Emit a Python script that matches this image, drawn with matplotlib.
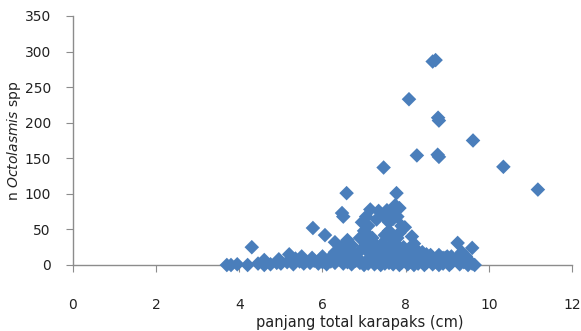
import matplotlib
matplotlib.use("Agg")
import matplotlib.pyplot as plt

# panjang total karapaks (cm) vs jumlah Octolasmis
x_low = [3.7, 3.8, 3.95, 4.2, 4.45, 4.6, 4.75, 4.9, 5.0, 5.15, 5.3, 5.45, 5.55,
         5.7, 5.8, 5.9, 6.0, 6.1, 6.2, 6.3, 6.4, 6.5, 6.6, 6.7, 6.8, 6.9, 7.0,
         7.05, 7.1, 7.2, 7.25, 7.3, 7.4, 7.45, 7.5, 7.6, 7.65, 7.7, 7.8, 7.85,
         7.9, 8.0, 8.05, 8.1, 8.2, 8.25, 8.3, 8.4, 8.45, 8.5, 8.6, 8.65, 8.7,
         8.8, 8.85, 8.9, 9.0, 9.05, 9.1, 9.2, 9.3, 9.4, 9.5, 9.6, 9.66]
y_low = [0, 0, 1, 0, 2, 0, 1, 3, 2, 4, 1, 5, 2,
         3, 6, 2, 4, 1, 5, 3, 8, 2, 4, 1, 6, 3, 0,
         5, 2, 8, 1, 4, 0, 6, 2, 3, 9, 1, 5, 0,
         3, 7, 1, 4, 0, 6, 2, 5, 0, 3, 8, 1, 4,
         0, 6, 2, 5, 0, 3, 8, 1, 4, 0, 2, 0]

x_mid = [5.2, 5.5, 5.75, 6.0, 6.3, 6.5, 6.6, 6.75, 6.9, 7.0, 7.1, 7.2, 7.3,
         7.4, 7.5, 7.6, 7.7, 7.75, 7.9, 8.0, 8.1, 8.2, 8.35, 8.4, 8.5, 8.65,
         8.8, 8.95, 9.1, 9.25, 9.35, 9.6, 9.45, 6.45, 7.8, 7.05,
         7.0, 7.05, 7.1, 7.2, 7.5, 7.6, 7.7, 7.45, 7.85, 7.9, 7.98, 8.15, 8.2,
         7.3, 6.95, 7.6, 7.7, 6.6, 6.7, 6.3, 6.06, 5.77, 4.3, 6.5,
         7.15, 7.35, 7.55, 7.7, 7.85, 7.05, 7.45, 7.8, 7.75, 6.47, 6.5,
         6.2, 6.4, 6.55, 6.85, 7.15, 7.25, 7.35, 7.55, 7.65, 7.95, 8.05,
         8.3, 8.45, 8.6, 8.75, 8.9, 9.0, 6.9, 7.0, 7.4, 7.65, 7.8, 8.25,
         5.95, 6.15, 5.35, 4.6, 4.95]
y_mid = [15, 12, 10, 12, 18, 14, 22, 16, 20, 25, 18, 12, 22,
         15, 20, 25, 14, 20, 18, 12, 22, 16, 12, 18, 15, 10,
         14, 10, 12, 31, 18, 24, 12, 25, 28, 30,
         35, 45, 55, 38, 42, 48, 35, 30, 45, 55, 53, 40, 30,
         64, 60, 60, 65, 35, 28, 32, 42, 52, 25, 20,
         78, 76, 77, 73, 80, 68, 70, 68, 84, 73, 68,
         10, 14, 10, 10, 28, 30, 20, 12, 18, 25, 15,
         8, 12, 14, 8, 10, 12, 38, 48, 28, 38, 38, 22,
         8, 8, 9, 7, 8]

x_high = [8.65, 8.72, 8.08, 8.78, 8.8, 9.62, 8.27, 8.77, 8.8, 7.47, 10.35,
          11.18, 6.58, 7.78]
y_high = [286, 288, 233, 207, 203, 175, 154, 155, 152, 137, 138,
          106, 101, 101]

xs = x_low + x_mid + x_high
ys = y_low + y_mid + y_high

fig = plt.figure(figsize=(5.81, 3.31), dpi=100)
ax = fig.add_axes([0.1256, 0.1994, 0.8589, 0.7523])

ax.scatter(xs, ys, marker='D', s=55, color='#4A7EBB', edgecolors='none',
           clip_on=False, zorder=3)

ax.set_xlim(0, 12)
ax.set_ylim(0, 350)
ax.set_xticks(range(0, 13, 2))
ax.set_yticks(range(0, 351, 50))

for s in ['top', 'right']:
    ax.spines[s].set_visible(False)
for s in ['left', 'bottom']:
    ax.spines[s].set_color('#8c8c8c')
    ax.spines[s].set_linewidth(1)

ax.tick_params(axis='both', colors='#8c8c8c', labelcolor='#222222',
               labelsize=10, length=5, direction='out')
ax.tick_params(axis='x', pad=19)
ax.tick_params(axis='y', pad=11)

ax.set_xlabel('panjang total karapaks (cm)', fontsize=10.5, color='#222222')
ax.xaxis.set_label_coords(0.575, -0.2)
ax.set_ylabel(r'n $\it{Octolasmis}$ spp', fontsize=10, color='#222222')
ax.yaxis.set_label_coords(-0.1, 0.5)

fig.savefig('out.png', dpi=100)
